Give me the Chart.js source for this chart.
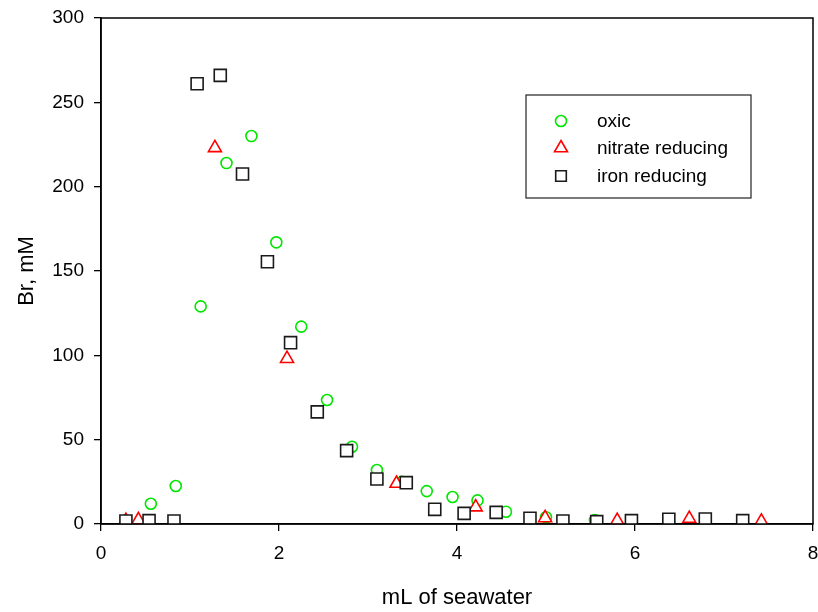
<!DOCTYPE html>
<html>
<head>
<meta charset="utf-8">
<script src="https://cdn.jsdelivr.net/npm/chart.js@4/dist/chart.umd.min.js"></script>
<style>
  html, body { margin: 0; padding: 0; background: #fff; }
  canvas { display: block; }
</style>
</head>
<body>
<canvas id="c" width="818" height="612"></canvas>
<script>
// values
const seriesNames = ['oxic', 'nitrate reducing', 'iron reducing'];

const oxicX = [0.56, 0.84, 1.12, 1.41, 1.69, 1.97, 2.25, 2.54, 2.82, 3.10, 3.38, 3.66, 3.95, 4.23, 4.55, 5.00, 5.55];
const oxicY = [12, 22.5, 129, 214, 230, 167, 117, 73.5, 45.8, 32, 25, 19.5, 16, 14, 7.3, 4, 2.4];

const nitrateX = [0.28, 0.42, 1.28, 2.09, 3.32, 4.21, 4.99, 5.80, 6.61, 7.42];
const nitrateY = [2, 2.4, 223, 98, 24, 10, 3.6, 2, 3.2, 1.6];

const ironX = [0.28, 0.54, 0.82, 1.08, 1.34, 1.59, 1.87, 2.13, 2.43, 2.76, 3.10, 3.43, 3.75, 4.08, 4.44, 4.82, 5.19, 5.57, 5.96, 6.38, 6.79, 7.21];
const ironY = [1.8, 2, 1.8, 261, 266, 207.5, 155.5, 107.5, 66.5, 43.5, 26.7, 24.5, 8.7, 6.3, 6.9, 3.4, 1.8, 1.4, 2, 2.8, 3, 2];

const xTicks = [0, 2, 4, 6, 8];
const yTicks = [0, 50, 100, 150, 200, 250, 300];

const FONT = '"Liberation Sans", Arial, sans-serif';

function pts(xs, ys) {
  return xs.map((x, i) => ({ x, y: ys[i] }));
}

const styles = [
  { color: '#00e600', shape: 'circle', radius: 5.5 },
  { color: '#ff0000', shape: 'triangle', radius: 7.5 },
  { color: '#1a1a1a', shape: 'rect', radius: 8.5 },
];

// marker drawn by hand for the legend, same shapes as chart.js uses
function drawMarker(ctx, st, x, y) {
  const r = st.radius;
  ctx.save();
  ctx.strokeStyle = st.color;
  ctx.fillStyle = '#fff';
  ctx.lineWidth = 1.6;
  ctx.beginPath();
  if (st.shape === 'circle') {
    ctx.arc(x, y, r, 0, Math.PI * 2);
  } else if (st.shape === 'triangle') {
    let a = 0;
    ctx.moveTo(x + Math.sin(a) * r, y - Math.cos(a) * r);
    a += Math.PI * 2 / 3;
    ctx.lineTo(x + Math.sin(a) * r, y - Math.cos(a) * r);
    a += Math.PI * 2 / 3;
    ctx.lineTo(x + Math.sin(a) * r, y - Math.cos(a) * r);
    ctx.closePath();
  } else {
    const s = r * Math.SQRT1_2;
    ctx.rect(x - s, y - s, 2 * s, 2 * s);
  }
  ctx.fill();
  ctx.stroke();
  ctx.restore();
}

const frameAndLegend = {
  id: 'frameAndLegend',
  afterDatasetsDraw(chart) {
    const { ctx, chartArea: a } = chart;
    ctx.save();
    ctx.strokeStyle = '#000';
    ctx.lineWidth = 1.5;
    ctx.strokeRect(a.left, a.top, a.right - a.left, a.bottom - a.top);

    // legend box
    ctx.lineWidth = 1.2;
    ctx.strokeStyle = '#222';
    ctx.fillStyle = '#fff';
    ctx.fillRect(526, 95, 225, 103);
    ctx.strokeRect(526, 95, 225, 103);
    const rows = [121, 148, 176];
    ctx.font = '19px ' + FONT;
    ctx.textBaseline = 'middle';
    seriesNames.forEach((name, i) => {
      drawMarker(ctx, i === 2 ? { ...styles[i], radius: 7.5 } : styles[i], 561, rows[i]);
      ctx.fillStyle = '#000';
      ctx.fillText(name, 597, rows[i] + 1);
    });
    ctx.restore();
  },
};

const datasets = [
  { label: seriesNames[0], data: pts(oxicX, oxicY), order: 2 },
  { label: seriesNames[1], data: pts(nitrateX, nitrateY), order: 1 },
  { label: seriesNames[2], data: pts(ironX, ironY), order: 0 },
].map((d, i) => ({
  ...d,
  showLine: false,
  pointStyle: styles[i].shape,
  pointRadius: styles[i].radius,
  pointHoverRadius: styles[i].radius,
  pointBorderColor: styles[i].color,
  pointBackgroundColor: '#fff',
  pointBorderWidth: 1.6,
}));

new Chart(document.getElementById('c'), {
  type: 'scatter',
  data: { datasets },
  options: {
    responsive: false,
    animation: false,
    layout: { autoPadding: false, padding: { top: 18, right: 5, left: 0, bottom: 0 } },
    plugins: { legend: { display: false }, tooltip: { enabled: false } },
    scales: {
      x: {
        min: 0,
        max: 8,
        afterFit: (s) => { s.height = 88; s.paddingLeft = 0; s.paddingRight = 0; },
        afterBuildTicks: (s) => { s.ticks = xTicks.map((v) => ({ value: v })); },
        grid: { drawOnChartArea: false, color: '#000', tickLength: 7, lineWidth: 1.3 },
        border: { color: '#000', width: 1.5 },
        ticks: { color: '#000', padding: 11, maxRotation: 0, font: { family: FONT, size: 19 } },
        title: {
          display: true,
          text: 'mL of seawater',
          color: '#000',
          font: { family: FONT, size: 22 },
          padding: { top: 0, bottom: 1 },
        },
      },
      y: {
        min: 0,
        max: 300,
        afterFit: (s) => { s.width = 101; s.paddingTop = 0; s.paddingBottom = 0; },
        afterBuildTicks: (s) => { s.ticks = yTicks.map((v) => ({ value: v })); },
        grid: { drawOnChartArea: false, color: '#000', tickLength: 7, lineWidth: 1.3 },
        border: { color: '#000', width: 1.5 },
        ticks: { color: '#000', padding: 10, font: { family: FONT, size: 19 } },
        title: {
          display: true,
          text: 'Br, mM',
          color: '#000',
          font: { family: FONT, size: 22 },
          padding: { top: 14, bottom: 0 },
        },
      },
    },
  },
  plugins: [frameAndLegend],
});
</script>
</body>
</html>
